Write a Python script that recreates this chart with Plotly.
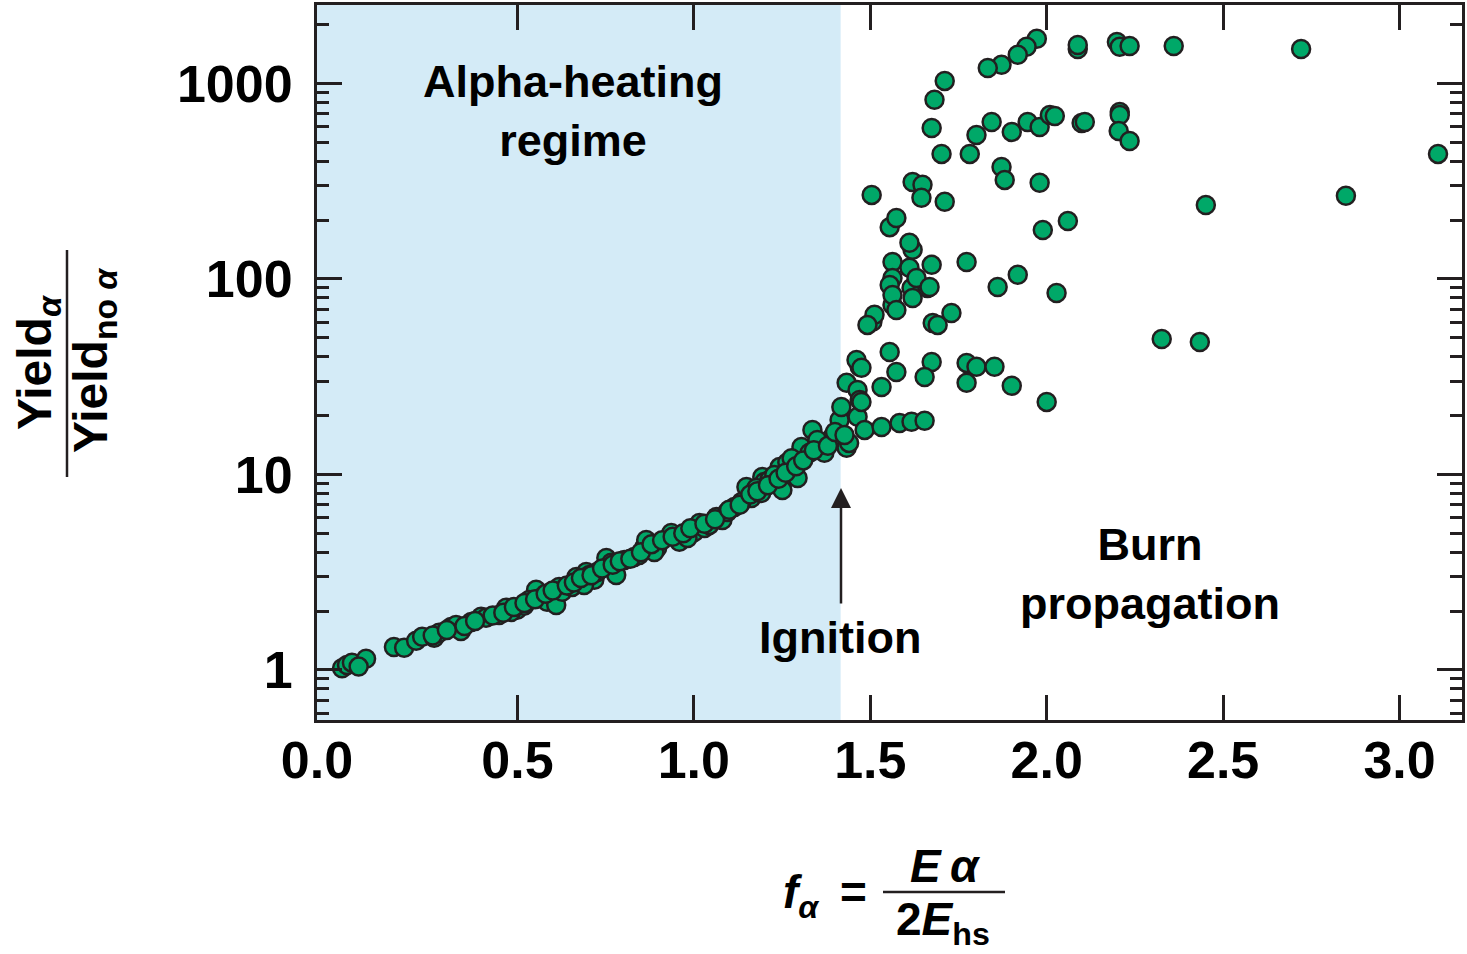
import numpy as np
import plotly.graph_objects as go

# f_alpha = E_alpha / 2E_hs  and  Yield_alpha / Yield_no_alpha
f_alpha = [
    0.003, 0.017, 0.031, 0.071, 0.150, 0.179, 0.213, 0.230, 0.264, 0.312,
    0.326, 0.340, 0.369, 0.397, 0.411, 0.448, 0.468, 0.499, 0.519, 0.553,
    0.570, 0.584, 0.610, 0.618, 0.627, 0.655, 0.667, 0.695, 0.718, 0.726,
    0.752, 0.766, 0.780, 0.831, 0.860, 0.865, 0.896, 0.936, 0.959, 1.001,
    1.016, 1.064, 1.081, 1.115, 1.149, 1.163, 1.191, 1.194, 1.200, 1.243,
    1.251, 1.265, 1.294, 1.305, 1.328, 1.336, 1.362, 1.370, 1.393, 1.421,
    1.433, 1.413, 0.533, 0.689, 0.803, 0.888, 0.982, 1.030, 1.095, 1.135,
    1.177, 1.214, 1.277, 1.350, 0.278, 0.482, 0.704, 0.845, 1.044, 1.228,
    0.05, 0.26, 0.30, 0.35, 0.38, 0.43, 0.46, 0.49, 0.52, 0.55,
    0.58, 0.60, 0.64, 0.66, 0.68, 0.71, 0.74, 0.77, 0.79, 0.82,
    0.85, 0.88, 0.91, 0.94, 0.97, 0.99, 1.03, 1.06, 1.10, 1.13,
    1.16, 1.18, 1.21, 1.24, 1.26, 1.29, 1.31, 1.34, 1.38, 1.40, 1.44,
    1.418, 1.433, 1.464, 1.470, 1.464, 1.484, 1.470, 1.461, 1.475, 1.532,
    1.583, 1.617, 1.654, 1.532, 1.555, 1.574, 1.506, 1.512, 1.492, 1.563,
    1.674, 1.654, 1.677, 1.691, 1.730, 1.773, 1.801, 1.852, 1.773, 1.901,
    2.000, 1.427, 1.475,
    1.563, 1.611, 1.674, 1.773, 1.563, 1.555, 1.617, 1.662, 1.563, 1.620,
    1.574, 1.861, 1.918, 2.028, 1.631, 1.668, 1.620, 1.611, 1.555, 1.574,
    1.504, 1.620, 1.648, 1.645, 1.711, 1.872, 1.881, 1.980, 1.989, 2.060,
    2.451, 2.848, 3.109, 2.326, 2.434,
    1.972, 1.943, 1.918, 1.872, 1.833, 1.711, 1.682, 1.674, 1.702, 1.782,
    1.801, 1.844, 1.901, 1.946, 1.980, 2.009, 2.023, 2.088, 2.088, 2.099,
    2.108, 2.199, 2.207, 2.235, 2.360, 2.721, 2.207, 2.207, 2.204, 2.235,
]
yield_ratio = [
    1.02, 1.06, 1.09, 1.14, 1.31, 1.30, 1.41, 1.48, 1.46, 1.66,
    1.70, 1.58, 1.76, 1.87, 1.85, 1.91, 2.08, 2.03, 2.13, 2.57,
    2.36, 2.23, 2.15, 2.66, 2.51, 2.66, 2.99, 3.17, 2.89, 3.17,
    3.74, 3.53, 3.06, 3.78, 4.26, 4.62, 4.21, 5.02, 4.52, 5.08,
    5.65, 6.06, 5.85, 6.82, 8.63, 7.58, 8.04, 9.71, 9.15, 10.9,
    8.33, 11.5, 9.60, 13.8, 12.9, 16.9, 14.5, 12.9, 15.6, 15.6,
    13.7, 19.0, 2.28, 2.72, 3.65, 4.01, 4.73, 5.32, 6.43, 7.23,
    8.53, 9.37, 12.1, 15.0, 1.55, 1.98, 3.06, 3.87, 5.52, 9.94,
    1.04, 1.50, 1.60, 1.68, 1.78, 1.90, 1.96, 2.10, 2.20, 2.30,
    2.45, 2.55, 2.70, 2.80, 2.95, 3.05, 3.30, 3.45, 3.60, 3.70,
    4.00, 4.40, 4.60, 4.80, 5.00, 5.30, 5.60, 5.90, 6.60, 7.00,
    7.90, 8.20, 8.80, 9.50, 10.2, 11.0, 11.8, 13.3, 14.0, 16.5, 14.5,
    22.1, 29.4, 27.0, 24.0, 19.7, 16.9, 35.5, 38.5, 35.1, 17.5,
    18.3, 18.6, 18.8, 28.0, 42.3, 33.4, 60.3, 65.5, 58.2, 73.6,
    37.6, 31.5, 59.5, 58.2, 67.0, 37.2, 35.5, 35.5, 29.4, 28.4,
    23.5, 15.9, 23.5,
    122, 114, 118, 122, 101, 93.2, 89.9, 89.9, 82.8, 79.9,
    69.3, 91.0, 105, 84.8, 101, 91.0, 141, 153, 184, 205,
    269, 313, 303, 260, 248, 374, 321, 310, 178, 198,
    239, 266, 436, 49.3, 47.6,
    1690, 1540, 1400, 1244, 1200, 1030, 824, 592, 436, 436,
    545, 635, 565, 635, 599, 690, 682, 1500, 1573, 628,
    635, 1630, 1538, 1555, 1555, 1500, 715, 690, 571, 508,
]

x_ticks = [-0.068, 0.5, 1.0, 1.5, 2.0, 2.5, 3.0]
x_tick_text = ['0.0', '0.5', '1.0', '1.5', '2.0', '2.5', '3.0']
y_ticks = [1, 10, 100, 1000]
y_tick_text = ['1', '10', '100', '1000']
ignition = 1.416

dark = '#231F20'
green = '#00A868'
shade = 'rgb(212,235,247)'
font = 'Liberation Sans'

fig = go.Figure()
fig.add_trace(go.Scatter(
    x=f_alpha, y=yield_ratio, mode='markers',
    marker=dict(size=18, color=green, line=dict(color=dark, width=2.5)),
    showlegend=False,
))

# alpha-heating regime shading
fig.add_shape(type='rect', xref='x', yref='paper', x0=-0.068, x1=ignition, y0=0, y1=1,
              fillcolor=shade, line_width=0, layer='below')

axis_common = dict(showline=True, linewidth=3, linecolor=dark, mirror='ticks',
                   ticks='inside', ticklen=25, tickwidth=3, tickcolor=dark,
                   showgrid=False, zeroline=False, automargin=False,
                   tickfont=dict(family=font, size=52, color='black', weight='bold'))

fig.update_xaxes(range=[-0.068, 3.177], tickvals=x_ticks, ticktext=x_tick_text,
                 ticklabelstandoff=-7, **axis_common)
fig.update_yaxes(type='log', range=[-0.256, 3.401], tickvals=y_ticks, ticktext=y_tick_text,
                 ticklabelstandoff=11,
                 minor=dict(ticks='inside', ticklen=12, tickwidth=3, tickcolor=dark, dtick='D1'),
                 **axis_common)

def px_x(p):  # pixel -> paper
    return (p - 317) / 1145

def px_y(p):
    return (720 - p) / 715

def label(px, py, text, f, angle=0):
    fig.add_annotation(x=px_x(px), y=px_y(py), xref='paper', yref='paper',
                       xanchor='center', yanchor='middle', textangle=angle,
                       text=text, showarrow=False, font=f)

big = dict(family=font, size=45, color='black', weight='bold')
label(573, 111, 'Alpha-heating<br>regime', big)
label(1150, 574, 'Burn<br>propagation', big)
label(840, 637, 'Ignition', big)
# ignition arrow
fig.add_annotation(x=px_x(841), y=px_y(488), xref='paper', yref='paper', text='',
                   showarrow=True, ax=0, ay=117, arrowhead=2, arrowsize=1.6,
                   arrowwidth=2.5, arrowcolor=dark, standoff=0)

# y title as a fraction
ytf = dict(family=font, size=48, color='black', weight='bold')
label(38, 363, 'Yield<sub><i>α</i></sub>', ytf, -90)
label(94, 361, 'Yield<sub>no <i>α</i></sub>', ytf, -90)
fig.add_shape(type='line', xref='paper', yref='paper', x0=px_x(67), x1=px_x(67),
              y0=px_y(250), y1=px_y(477), line=dict(color=dark, width=2.5))

# x title: f_alpha = E_alpha / 2E_hs
xtf = dict(family=font, size=46, color='black', weight='bold')
label(801, 895, '<i>f</i><sub><i>α</i></sub>', xtf)
label(853, 892, '=', xtf)
label(945, 866, '<i>E</i>\u2009<i>α</i>', xtf)
label(943, 922, '2<i>E</i><sub>hs</sub>', xtf)
fig.add_shape(type='line', xref='paper', yref='paper', x0=px_x(883), x1=px_x(1005),
              y0=px_y(892), y1=px_y(892), line=dict(color=dark, width=2.5))

fig.update_layout(
    width=1467, height=954,
    margin=dict(l=317, r=5, t=5, b=234),
    plot_bgcolor='white', paper_bgcolor='white',
)

# drop the default page margin so the figure sits at the window corner
fig.write_html("out.html", config={'displayModeBar': False},
               post_script="document.body.style.margin='0';")
